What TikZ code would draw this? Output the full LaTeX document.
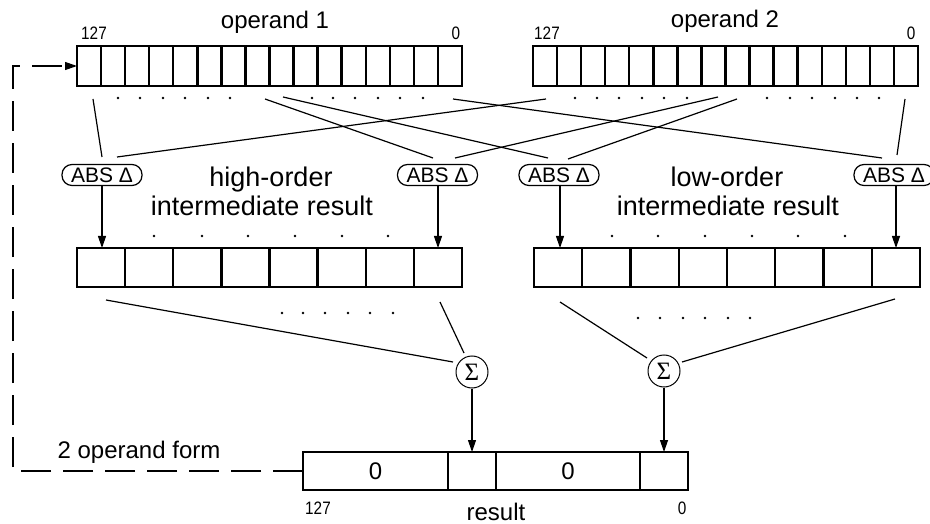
\documentclass[tikz,border=0pt]{standalone}
\usepackage{fontspec}
\setmainfont{Liberation Sans}
\newfontfamily\narrowfont[FakeStretch=0.85]{Liberation Sans}
\newfontfamily\sigmafont{Liberation Serif}
\usetikzlibrary{arrows.meta}
\begin{document}
\begin{tikzpicture}[x=1pt,y=-1pt,
  reg/.style={draw,line width=2.5pt,inner sep=0pt,outer sep=0pt,minimum height=40pt},
  cellline/.style={line width=2.4pt},
  conn/.style={line width=1.2pt},
  arr/.style={line width=1.2pt,-{Triangle[length=12pt,width=8pt]}},
  absnode/.style={draw,line width=1.2pt,rounded corners=10pt,minimum width=80pt,minimum height=21pt,inner sep=0pt,font=\fontsize{21}{21}\selectfont},
  sumnode/.style={draw,circle,line width=1pt,minimum size=32pt,inner sep=0pt,font=\sigmafont\fontsize{25}{25}\selectfont},
  big/.style={font=\fontsize{24}{24}\selectfont,inner sep=0pt},
  bigger/.style={font=\fontsize{27}{27}\selectfont,inner sep=0pt},
  num/.style={font=\narrowfont\fontsize{18}{18}\selectfont,inner sep=0pt},
  dashline/.style={line width=1.2pt,dash pattern=on 30pt off 12pt}
]
\useasboundingbox (0,0) rectangle (930,524);

% registers
\node[reg,minimum width=385pt] (op1) at (269.5,66) {};
\node[reg,minimum width=385pt] (op2) at (725.5,66) {};
\foreach \i in {1,...,15} {
  \draw[cellline] ({77+\i*385/16},46) -- ++(0,40);
  \draw[cellline] ({533+\i*385/16},46) -- ++(0,40);
}
\node[reg,minimum width=385pt,minimum height=39pt] (hi) at (269.5,267.5) {};
\node[reg,minimum width=386pt,minimum height=39pt] (lo) at (727,267.5) {};
\foreach \i in {1,...,7} {
  \draw[cellline] ({77+\i*385/8},248) -- ++(0,39);
  \draw[cellline] ({534+\i*386/8},248) -- ++(0,39);
}
\node[reg,minimum width=385pt,minimum height=38pt] (res) at (495.5,471) {};
\foreach \x in {448,496,640} \draw[cellline] (\x,452) -- ++(0,38);
\node[big] (r0a) at (375.5,471) {0};
\node[big] (r0b) at (568,471) {0};

% labels
\node[big,anchor=base] (op1lbl) at (275,29) {operand 1};
\node[big,anchor=base] (op2lbl) at (725,28) {operand 2};
\node[num] (op1hi) at (94,33) {127};
\node[num] (op1lo) at (456,33) {0};
\node[num] (op2hi) at (547,33) {127};
\node[num] (op2lo) at (911,33) {0};
\node[bigger,anchor=base] (hol) at (271,187) {high-order};
\node[bigger,anchor=base] (hir) at (262,216) {intermediate result};
\node[bigger,anchor=base] (lol) at (727,187) {low-order};
\node[bigger,anchor=base] (lor) at (728,216) {intermediate result};
\node[big,anchor=base] (form) at (139,458) {2 operand form};
\node[num] (r127) at (318,508) {127};
\node[num] (rlo) at (682,508) {0};
\node[big,anchor=base] (reslbl) at (496,520) {result};

% ABS nodes
\node[absnode] (a1) at (102,175) {ABS Δ};
\node[absnode] (a2) at (437.5,175) {ABS Δ};
\node[absnode] (a3) at (559,175) {ABS Δ};
\node[absnode] (a4) at (894,175) {ABS Δ};

% sum nodes
\node[sumnode] (s1) at (472,372) {Σ};
\node[sumnode] (s2) at (664,371) {Σ};

% dots
\foreach \x in {118,140,163,185,208,230,312,333,355,378,400,423,575,597,619,642,664,687,767,790,812,835,857,879}
  \fill (\x,98) circle (1.3pt);
\foreach \x in {154,202,248,295,342,388,612,658,705,752,798,845}
  \fill (\x,236) circle (1.3pt);
\foreach \x in {282,303,325,348,370,393}
  \fill (\x,313) circle (1.3pt);
\foreach \x in {638,660,683,705,728,750}
  \fill (\x,318) circle (1.3pt);

% crossing connectors
\coordinate (p1) at (93,99);   \coordinate (q1) at (102,157);
\coordinate (p2) at (546,99);  \coordinate (q2) at (117,157);
\coordinate (p3) at (265,99);  \coordinate (q3) at (433,158);
\coordinate (p4) at (718,97);  \coordinate (q4) at (455,158);
\coordinate (p5) at (283,97);  \coordinate (q5) at (548,158);
\coordinate (p6) at (737,99);  \coordinate (q6) at (568,159);
\coordinate (p7) at (453,99);  \coordinate (q7) at (882,158);
\coordinate (p8) at (905,99);  \coordinate (q8) at (897,155);
\foreach \k in {1,...,8} \draw[conn] (p\k) -- (q\k);

% ABS -> intermediate
\draw[arr] (a1.south) -- (a1.south |- hi.north);
\draw[arr] ([xshift=0.5pt]a2.south) -- ([xshift=0.5pt]a2.south |- hi.north);
\draw[arr] ([xshift=1pt]a3.south) -- ([xshift=1pt]a3.south |- lo.north);
\draw[arr] ([xshift=2pt]a4.south) -- ([xshift=2pt]a4.south |- lo.north);

% intermediate -> sums
\coordinate (h1) at (106,300); \coordinate (h1e) at (453,362);
\coordinate (h2) at (440,302); \coordinate (h2e) at (464,353);
\coordinate (l1) at (560,302); \coordinate (l1e) at (647,358);
\coordinate (l2) at (895,299); \coordinate (l2e) at (682,362);
\draw[conn] (h1) -- (h1e);
\draw[conn] (h2) -- (h2e);
\draw[conn] (l1) -- (l1e);
\draw[conn] (l2) -- (l2e);

% sums -> result
\draw[arr] (s1.south) -- (s1.south |- res.north);
\draw[arr] (s2.south) -- (s2.south |- res.north);

% feedback dashed
\coordinate (c1) at (13,471);
\coordinate (c2) at (13,66);
\draw[dashline,-{Triangle[length=12pt,width=8pt]}] (res.west) -- (c1) -- (c2) -- (op1.west);
\end{tikzpicture}
\end{document}
